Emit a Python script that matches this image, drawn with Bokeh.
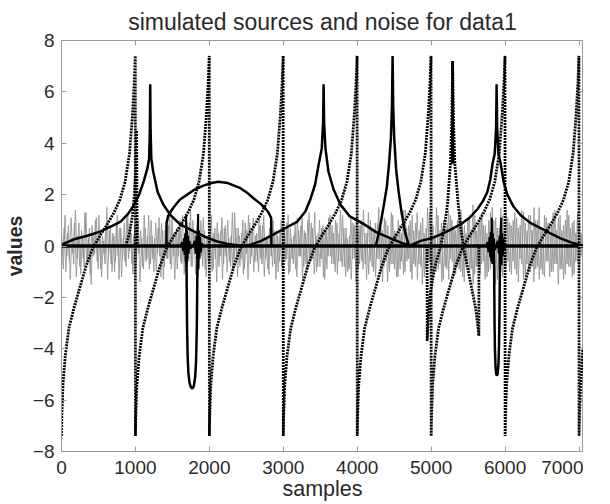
import numpy as np
from bokeh.plotting import figure
from bokeh.models import LinearAxis, FixedTicker, Range1d
from bokeh.embed import file_html
from bokeh.resources import INLINE

# ---------------- data ----------------
x_ticks = [0, 1000, 2000, 3000, 4000, 5000, 6000, 7000]
y_ticks = [-8, -6, -4, -2, 0, 2, 4, 6, 8]

# dotted tan-like sawtooth (period 1000 samples)
tan_x = [
    0, 5, 20, 50, 100, 170, 250, 330, 420, 520, 620, 710, 790, 860, 920, 960, 985, 998,
    1000, 1005, 1020, 1050, 1100, 1170, 1250, 1330, 1420, 1520, 1620, 1710, 1790, 1860, 1920, 1960, 1985, 1998,
    2000, 2005, 2020, 2050, 2100, 2170, 2250, 2330, 2420, 2520, 2620, 2710, 2790, 2860, 2920, 2960, 2985, 2998,
    3000, 3005, 3020, 3050, 3100, 3170, 3250, 3330, 3420, 3520, 3620, 3710, 3790, 3860, 3920, 3960, 3985, 3998,
    4000, 4005, 4020, 4050, 4100, 4170, 4250, 4330, 4420, 4520, 4620, 4710, 4790, 4860, 4920, 4960, 4985, 4998,
    5000, 5005, 5020, 5050, 5100, 5170, 5250, 5330, 5420, 5520, 5620, 5710, 5790, 5860, 5920, 5960, 5985, 5998,
    6000, 6005, 6020, 6050, 6100, 6170, 6250, 6330, 6420, 6520, 6620, 6710, 6790, 6860, 6920, 6960, 6985, 6998,
    7000, 7005, 7020, 7050,
]
tan_y = [
    -7.4, -6.6, -5.4, -4.3, -3.2, -2.4, -1.6, -0.8, -0.1, 0.4, 0.85, 1.3, 1.8, 2.5, 3.6, 5.1, 6.4, 7.4,
    -7.4, -6.6, -5.4, -4.3, -3.2, -2.4, -1.6, -0.8, -0.1, 0.4, 0.85, 1.3, 1.8, 2.5, 3.6, 5.1, 6.4, 7.4,
    -7.4, -6.6, -5.4, -4.3, -3.2, -2.4, -1.6, -0.8, -0.1, 0.4, 0.85, 1.3, 1.8, 2.5, 3.6, 5.1, 6.4, 7.4,
    -7.4, -6.6, -5.4, -4.3, -3.2, -2.4, -1.6, -0.8, -0.1, 0.4, 0.85, 1.3, 1.8, 2.5, 3.6, 5.1, 6.4, 7.4,
    -7.4, -6.6, -5.4, -4.3, -3.2, -2.4, -1.6, -0.8, -0.1, 0.4, 0.85, 1.3, 1.8, 2.5, 3.6, 5.1, 6.4, 7.4,
    -7.4, -6.6, -5.4, -4.3, -3.2, -2.4, -1.6, -0.8, -0.1, 0.4, 0.85, 1.3, 1.8, 2.5, 3.6, 5.1, 6.4, 7.4,
    -7.4, -6.6, -5.4, -4.3, -3.2, -2.4, -1.6, -0.8, -0.1, 0.4, 0.85, 1.3, 1.8, 2.5, 3.6, 5.1, 6.4, 7.4,
    -7.4, -6.6, -5.4, -4.0,
]

# dotted small spike near 1000 and dotted cusp near 5290
spike_x = [870, 920, 960, 985, 1000, 1010, 1016, 1020, 1024]
spike_y = [0.0, 0.5, 1.2, 2.0, 2.8, 3.6, 4.5, 2.0, 0.0]
cusp_x = [4945, 4946, 4960, 4990, 5050, 5130, 5180, 5220, 5260, 5280, 5290,
          5300, 5320, 5360, 5400, 5440, 5530, 5600, 5630, 5645, 5646]
cusp_y = [0.0, -3.7, -2.9, -1.8, -0.8, 0.0, 0.8, 1.6, 3.2, 5.0, 7.2,
          5.0, 3.2, 1.8, 0.7, -0.1, -1.4, -2.4, -3.1, -3.5, 0.0]

# solid peaked sources
peak1_x = [0, 160, 350, 530, 700, 800, 900, 980, 1050, 1110, 1160, 1185, 1195, 1200,
           1205, 1215, 1240, 1300, 1380, 1475, 1600, 1790, 1950, 2100, 2250, 2400]
peak1_y = [0.05, 0.25, 0.4, 0.57, 0.8, 0.95, 1.25, 1.6, 2.0, 2.5, 3.0, 3.4, 4.5, 6.3,
           4.5, 3.4, 2.9, 2.1, 1.6, 1.2, 0.85, 0.57, 0.35, 0.18, 0.08, 0.02]
peak2_x = [2450, 2560, 2700, 2870, 3030, 3190, 3300, 3370, 3430, 3480, 3520, 3538, 3545,
           3552, 3570, 3610, 3680, 3775, 3900, 4090, 4250, 4450, 4600, 4720]
peak2_y = [0.0, 0.05, 0.2, 0.45, 0.7, 0.95, 1.35, 1.85, 2.4, 3.2, 3.8, 4.8, 6.3,
           4.8, 3.8, 2.9, 2.2, 1.6, 1.15, 0.85, 0.55, 0.3, 0.12, 0.02]
peak3_x = [4700, 4860, 5000, 5130, 5270, 5400, 5520, 5630, 5700, 5760, 5800, 5830, 5860,
           5878, 5885, 5892, 5910, 5940, 5980, 6030, 6110, 6210, 6340, 6480, 6620, 6750,
           6880, 7000, 7050]
peak3_y = [0.0, 0.2, 0.3, 0.45, 0.65, 0.85, 1.1, 1.45, 1.75, 2.1, 2.6, 3.2, 3.6,
           4.6, 6.3, 4.6, 3.6, 3.2, 2.5, 2.0, 1.55, 1.2, 0.9, 0.7, 0.48, 0.3,
           0.15, 0.05, 0.02]
peak4_x = [4250, 4300, 4360, 4400, 4430, 4455, 4470, 4478, 4486, 4500, 4525, 4560, 4600, 4650, 4700]
peak4_y = [0.0, 0.6, 1.6, 2.3, 3.2, 4.2, 5.5, 7.4, 5.5, 4.2, 3.0, 2.1, 1.3, 0.5, 0.0]
tip_x = [5283, 5290, 5297]
tip_y = [3.2, 7.2, 3.2]

# half-ellipse source
arc_x = [1420, 1421, 1440, 1480, 1515, 1600, 1700, 1800, 1920, 2030, 2120, 2250,
         2420, 2520, 2600, 2690, 2760, 2800, 2835, 2840]
arc_y = [0.0, 0.9, 1.15, 1.35, 1.5, 1.8, 2.0, 2.2, 2.35, 2.45, 2.5, 2.45,
         2.25, 2.05, 1.85, 1.65, 1.45, 1.3, 1.1, 0.0]

# negative dips
dip1_x = [1690, 1693, 1698, 1705, 1715, 1730, 1750, 1770, 1790, 1808, 1820, 1830, 1836, 1840]
dip1_y = [0.0, -1.5, -3.0, -4.2, -4.9, -5.3, -5.5, -5.55, -5.45, -5.1, -4.5, -3.2, -1.5, 0.0]
dip2_x = [5850, 5853, 5857, 5862, 5870, 5880, 5890, 5900, 5910, 5918, 5924, 5928, 5930]
dip2_y = [0.0, -1.5, -3.0, -4.0, -4.7, -5.0, -5.05, -4.95, -4.6, -3.8, -2.5, -1.2, 0.0]

# oscillating bursts
burst_xs = [
    [1610, 1630, 1645, 1655, 1665, 1672, 1680, 1686, 1692, 1698, 1705, 1712, 1720, 1730, 1745, 1765],
    [1780, 1800, 1815, 1825, 1835, 1842, 1848, 1853, 1860, 1867, 1875, 1885, 1900, 1920],
    [5740, 5760, 5775, 5788, 5798, 5806, 5813, 5820, 5826, 5833, 5841, 5850, 5862, 5880],
    [5880, 5900, 5915, 5925, 5933, 5940, 5946, 5952, 5960, 5968, 5978, 5990, 6010],
]
burst_ys = [
    [0, 0.15, -0.2, 0.3, -0.35, 0.5, -0.6, 1.2, -0.8, 0.6, -0.5, 0.4, -0.3, 0.2, -0.1, 0],
    [0, 0.2, -0.3, 0.4, -0.5, 0.7, 1.25, -0.9, 0.6, -0.5, 0.35, -0.25, 0.1, 0],
    [0, 0.15, -0.25, 0.35, -0.45, 0.55, -0.6, 1.1, -0.7, 0.5, -0.4, 0.3, -0.15, 0],
    [0, 0.2, -0.3, 0.4, -0.5, 0.6, 1.1, -0.75, 0.5, -0.4, 0.3, -0.15, 0],
]

zero_x = [0, 7060]
zero_y = [0, 0]

# gray noise (approximate values)
noise_y = [
    0.6, -0.9, 1.2, -0.4, 0.8, -1.3, 0.3, -0.7, 1.4, -0.5,
    0.9, -1.1, 0.4, -0.8, 1.3, -0.6, 0.7, -1.5, 0.5, -0.3,
    1.1, -0.9, 0.6, -1.2, 0.2, -0.7, 1.5, -0.4, 0.8, -1.0,
    0.4, -0.6, 1.2, -1.3, 0.7, -0.5, 0.9, -0.8, 1.3, -0.2,
    0.5, -1.1, 0.8, -0.6, 1.0, -1.4, 0.3, -0.9, 0.7, -0.5,
    1.2, -0.7, 0.4, -1.0, 0.9, -0.3, 1.1, -1.2, 0.6, -0.8,
    0.8, -0.5, 1.3, -0.9, 0.5, -1.3, 0.7, -0.4, 1.0, -0.7,
    0.3, -1.0, 0.9, -0.6, 1.4, -0.8, 0.5, -1.1, 0.8, -0.3,
    1.0, -0.8, 0.6, -1.2, 0.4, -0.6, 1.2, -0.9, 0.7, -1.4,
    0.5, -0.4, 1.1, -0.7, 0.8, -1.0, 0.3, -0.8, 1.3, -0.6,
    0.7, -1.2, 0.4, -0.5, 1.0, -0.9, 0.6, -1.3, 0.9, -0.4,
    1.1, -0.6, 0.5, -1.0, 0.8, -0.7, 1.2, -0.5, 0.3, -1.1,
    0.9, -0.8, 0.6, -1.3, 0.4, -0.6, 1.0, -0.9, 0.7, -0.5,
    1.2, -1.0, 0.3, -0.7, 0.9, -1.2, 0.6, -0.4, 1.1, -0.8,
    0.5, -0.9, 1.3, -0.6, 0.7, -1.1, 0.4, -0.8, 1.0, -0.5,
    0.8, -1.3, 0.6, -0.4, 1.2, -0.7, 0.5, -1.0, 0.9, -0.6,
    1.4, -0.8, 0.7, -1.2, 0.3, -0.9, 1.1, -0.5, 0.8, -1.4,
    0.6, -0.7, 1.0, -0.9, 0.5, -1.3, 1.3, -0.6, 0.7, -1.0,
    0.9, -0.5, 1.5, -1.1, 0.6, -0.8, 1.0, -1.4, 0.4, -0.7,
    1.2, -0.9, 0.5, -1.2, 0.8, -0.6, 1.4, -1.0, 0.7, -0.5,
    1.0, -1.3, 0.6, -0.8, 1.3, -0.7, 0.9, -1.5, 0.5, -0.9,
    1.5, -0.6, 0.8, -1.1, 0.4, -1.0, 1.2, -0.7, 0.9, -1.3,
    0.7, -0.9, 1.4, -0.5, 1.0, -1.2, 0.6, -0.8, 1.3, -1.0,
    0.9, -1.4, 0.5, -0.7, 1.2, -0.9, 1.6, -1.1, 0.6, -0.8,
    1.1, -0.7, 0.8, -1.3, 0.5, -1.0, 1.3, -0.6, 1.0, -1.5,
    0.7, -0.9, 1.5, -1.2, 0.6, -0.8, 1.1, -1.0, 0.8, -0.6,
    1.3, -1.1, 0.7, -0.5, 1.4, -1.3, 0.9, -0.7, 1.2, -1.0,
    0.6, -1.4, 1.0, -0.8, 1.5, -0.9, 0.7, -1.2, 1.1, -0.6,
    0.9, -1.0, 1.3, -0.7, 0.6, -1.5, 1.2, -0.9, 0.8, -1.1,
    1.4, -0.8, 0.7, -1.2, 1.0, -0.6, 1.3, -1.0, 0.5, -0.3,
]
noise2_y = [
    -0.4, 0.7, -1.0, 0.5, -0.6, 1.1, -0.3, 0.9, -1.2, 0.4,
    -0.8, 0.6, -0.5, 1.3, -0.7, 0.3, -1.1, 0.8, -0.4, 1.0,
    -0.6, 1.2, -0.9, 0.4, -0.3, 0.8, -1.3, 0.6, -0.7, 0.5,
    -1.0, 0.9, -0.4, 0.7, -1.2, 0.3, -0.6, 1.1, -0.5, 0.8,
    -0.7, 0.4, -1.1, 0.9, -0.3, 0.6, -0.8, 1.2, -0.6, 0.4,
    -0.9, 1.0, -0.5, 0.3, -1.0, 0.7, -0.4, 0.9, -1.3, 0.6,
    -0.5, 0.8, -0.7, 1.1, -0.4, 0.5, -0.9, 0.7, -0.6, 1.2,
    -1.1, 0.4, -0.6, 0.9, -0.8, 1.0, -0.3, 0.6, -1.2, 0.5,
    -0.4, 1.1, -0.9, 0.3, -0.7, 0.8, -1.0, 0.5, -0.5, 0.9,
    -0.8, 0.6, -1.3, 0.7, -0.4, 1.0, -0.6, 0.4, -0.9, 1.3,
    -0.5, 0.7, -0.8, 0.5, -1.1, 0.9, -0.3, 1.2, -0.7, 0.6,
    -1.0, 0.4, -0.6, 1.1, -0.5, 0.8, -1.2, 0.3, -0.9, 0.7,
    -0.4, 1.0, -0.7, 0.6, -1.0, 0.5, -0.8, 1.2, -0.6, 0.9,
    -1.1, 0.7, -0.5, 0.4, -0.9, 1.1, -0.4, 0.8, -1.3, 0.6,
    -0.7, 1.0, -0.6, 0.9, -0.5, 1.3, -1.0, 0.5, -0.8, 0.7,
    -1.2, 0.6, -0.9, 1.1, -0.4, 0.8, -0.7, 1.0, -1.1, 0.5,
    -0.6, 1.2, -0.8, 0.7, -1.0, 0.4, -1.3, 0.9, -0.5, 1.1,
    -0.9, 0.8, -0.6, 1.4, -0.7, 0.5, -1.1, 1.0, -0.8, 0.6,
    -1.2, 0.9, -0.5, 0.7, -1.4, 1.1, -0.6, 0.8, -1.0, 1.3,
    -0.7, 0.6, -1.2, 1.0, -0.9, 0.5, -1.1, 1.4, -0.6, 0.8,
    -1.0, 1.2, -0.7, 0.9, -1.3, 0.6, -0.8, 1.1, -1.2, 0.7,
    -0.6, 1.3, -1.0, 0.8, -0.7, 1.5, -0.9, 0.6, -1.4, 1.0,
    -0.8, 0.9, -1.3, 1.2, -0.6, 0.7, -1.1, 1.0, -0.9, 1.4,
    -1.2, 0.8, -0.7, 1.1, -1.0, 0.6, -1.5, 1.2, -0.8, 0.9,
    -1.1, 1.3, -0.6, 0.8, -1.2, 1.0, -0.9, 1.5, -0.7, 1.1,
    -1.3, 0.7, -1.0, 1.2, -0.8, 1.4, -0.6, 0.9, -1.1, 1.0,
    -0.9, 1.1, -1.4, 0.8, -0.7, 1.3, -1.2, 0.6, -1.0, 1.2,
    -0.8, 1.5, -0.9, 1.0, -1.3, 0.7, -1.1, 1.2, -0.6, 0.9,
    -1.2, 0.8, -1.0, 1.4, -0.7, 1.1, -0.9, 0.6, -1.3, 1.0,
    -0.7, 1.2, -0.8, 0.9, -1.1, 0.5, -0.6, 1.0, -0.4, 0.3,
]
noise_x = list(np.linspace(0, 7050, len(noise_y)))
noise2_x = list(np.linspace(12, 7050, len(noise2_y)))

# ---------------- figure ----------------
FONT = "Liberation Sans"
GRAY = "#9a9a9a"
TXT = "#2a2a2a"

p = figure(frame_width=522, frame_height=411,
           x_range=Range1d(0, 7060), y_range=Range1d(-8, 8),
           output_backend="svg", toolbar_location=None,
           min_border=0,
           title="simulated sources and noise for data1")
p.title.text_font = FONT
p.title.text_font_size = "23px"
p.title.text_font_style = "normal"
p.title.text_color = TXT
p.title.align = "center"
p.title.standoff = 12
p.xgrid.visible = False
p.ygrid.visible = False
p.outline_line_color = GRAY
p.background_fill_color = "white"
p.border_fill_color = "white"

def style_axis(ax, ticks, show_labels=True):
    ax.ticker = FixedTicker(ticks=ticks)
    ax.major_tick_in = 5
    ax.major_tick_out = 0
    ax.minor_tick_line_color = None
    ax.axis_line_color = GRAY
    ax.major_tick_line_color = GRAY
    ax.major_label_text_font = FONT
    ax.major_label_text_color = TXT
    if show_labels:
        ax.major_label_text_font_size = "19px"
    else:
        ax.major_label_text_font_size = "0px"
        ax.major_label_standoff = 0

style_axis(p.xaxis[0], x_ticks)
style_axis(p.yaxis[0], y_ticks)
p.xaxis[0].major_label_standoff = 9
p.yaxis[0].major_label_standoff = 7
p.xaxis[0].axis_label = "samples"
p.yaxis[0].axis_label = "values"
p.xaxis[0].axis_label_standoff = 0
p.yaxis[0].axis_label_standoff = 4
for ax, st, sz in ((p.xaxis[0], "normal", "21.5px"), (p.yaxis[0], "bold", "19.5px")):
    ax.axis_label_text_font = FONT
    ax.axis_label_text_font_size = sz
    ax.axis_label_text_font_style = st
    ax.axis_label_text_color = TXT

top = LinearAxis()
style_axis(top, x_ticks, False)
p.add_layout(top, "above")
right = LinearAxis()
style_axis(right, y_ticks, False)
p.add_layout(right, "right")

# noise
p.line(noise_x, noise_y, line_color="#8f8f8f", line_width=1, line_alpha=0.8)
p.line(noise2_x, noise2_y, line_color="#8f8f8f", line_width=1, line_alpha=0.8)
# thick zero line
p.line(zero_x, zero_y, line_color="black", line_width=3.5)
# dotted sources
for xs, ys in ((tan_x, tan_y), (spike_x, spike_y), (cusp_x, cusp_y)):
    p.line(xs, ys, line_color="black", line_width=2.8, line_dash="2 1")
# solid sources
for xs, ys in ((peak1_x, peak1_y), (peak2_x, peak2_y), (peak3_x, peak3_y),
               (peak4_x, peak4_y), (tip_x, tip_y), (arc_x, arc_y),
               (dip1_x, dip1_y), (dip2_x, dip2_y)):
    p.line(xs, ys, line_color="black", line_width=2.5)
p.multi_line(burst_xs, burst_ys, line_color="black", line_width=2)

open("out.html", "w").write(file_html(p, INLINE))
